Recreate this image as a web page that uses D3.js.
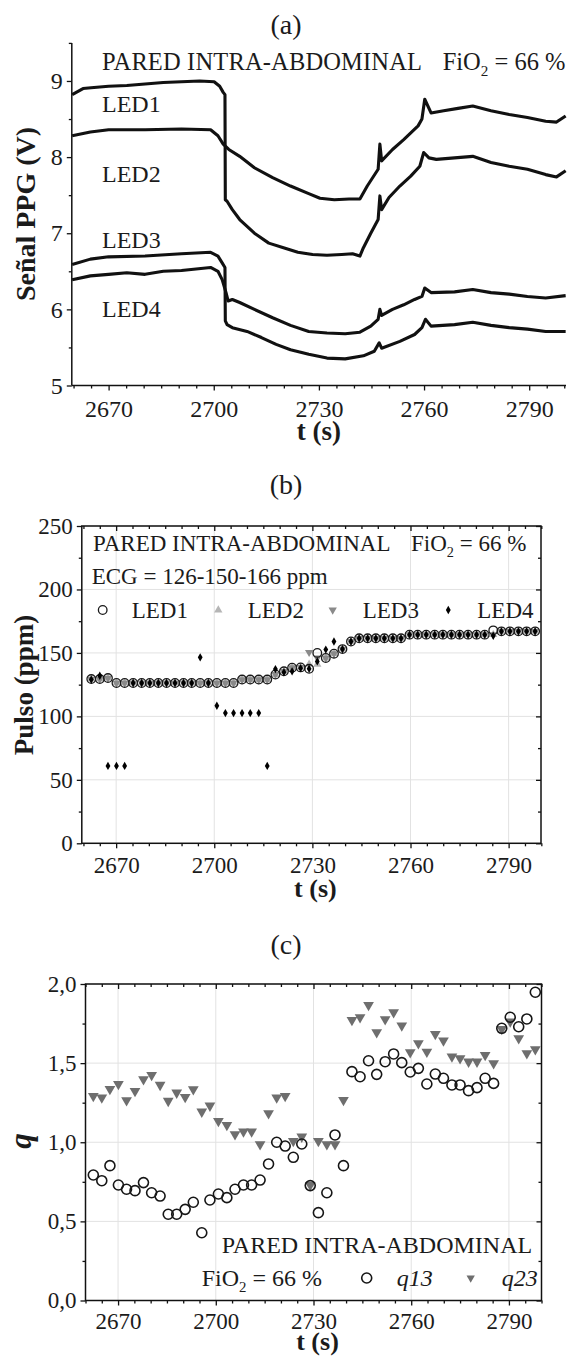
<!DOCTYPE html>
<html>
<head>
<meta charset="utf-8">
<script src="https://cdn.jsdelivr.net/npm/d3@7"></script>
<style>
  body { margin: 0; background: #fff; }
</style>
</head>
<body>
<svg id="chart" width="571" height="1356"></svg>
<script>
// ---------- panel (a): PPG signal, [t (s), V] ----------
const led1 = [[2659.6, 8.82], [2662.7, 8.90], [2665, 8.91], [2670, 8.93], [2675.2, 8.94], [2680.4, 8.96], [2685.6, 8.98],
  [2690.8, 8.99], [2696, 9.0], [2700.1, 8.99], [2701.7, 8.93], [2702.7, 8.85], [2703.2, 8.82], [2703.3, 7.44],
  [2703.8, 7.42], [2705.3, 7.31], [2707.4, 7.18], [2711.6, 7.0], [2715.7, 6.87], [2719.9, 6.81], [2724, 6.75],
  [2728.2, 6.72], [2732.3, 6.71], [2736.5, 6.72], [2739.6, 6.73], [2741.7, 6.70], [2742.7, 6.81], [2744.8, 7.0],
  [2746.9, 7.18], [2747.4, 7.49], [2747.9, 7.31], [2750, 7.47], [2753.1, 7.62], [2756.2, 7.75], [2758.8, 7.88],
  [2759.9, 8.06], [2761.4, 7.99], [2763.5, 7.97], [2768.7, 7.99], [2773.9, 8.01], [2779.1, 7.93], [2784.3, 7.88],
  [2789.5, 7.84], [2794.7, 7.77], [2797.8, 7.74], [2800.4, 7.82]];
const led2 = [[2659.6, 8.28], [2664.8, 8.33], [2670, 8.36], [2680.4, 8.36], [2690.8, 8.37], [2699.1, 8.36], [2701.2, 8.28],
  [2702.7, 8.17], [2704.3, 8.10], [2707.4, 8.01], [2711.6, 7.86], [2716.8, 7.73], [2721.9, 7.62], [2727.1, 7.52],
  [2730.3, 7.46], [2734.4, 7.44], [2738.6, 7.45], [2741.7, 7.45], [2743.8, 7.62], [2746.9, 7.84], [2747.4, 8.17],
  [2747.9, 7.95], [2751, 8.10], [2754.2, 8.23], [2758.3, 8.41], [2759.4, 8.50], [2760.2, 8.76], [2762, 8.58],
  [2765.6, 8.61], [2769.7, 8.64], [2773.9, 8.67], [2779.1, 8.61], [2784.3, 8.56], [2789.5, 8.52], [2794.7, 8.47],
  [2797.8, 8.46], [2800.4, 8.54]];
const led3 = [[2659.6, 6.59], [2664.8, 6.66], [2670, 6.69], [2680.4, 6.70], [2690.8, 6.73], [2699.1, 6.75], [2701.2, 6.70],
  [2702.4, 6.61], [2703.2, 6.55], [2703.3, 5.85], [2703.8, 5.80], [2705.3, 5.76], [2709.5, 5.71], [2713.6, 5.63],
  [2717.8, 5.54], [2721.9, 5.47], [2727.1, 5.41], [2732.3, 5.36], [2737.5, 5.35], [2742.7, 5.39], [2745.8, 5.45],
  [2747.2, 5.56], [2747.9, 5.49], [2753.1, 5.58], [2757.3, 5.67], [2759.4, 5.76], [2760.4, 5.87], [2762, 5.78],
  [2768.7, 5.80], [2773.9, 5.83], [2779.1, 5.79], [2784.3, 5.76], [2789.5, 5.74], [2794.7, 5.71], [2800.4, 5.71]];
const led4 = [[2659.6, 6.39], [2664.8, 6.44], [2670, 6.46], [2675.2, 6.48], [2680.4, 6.46], [2685.6, 6.50], [2690.8, 6.51],
  [2699.1, 6.55], [2701.2, 6.50], [2702.4, 6.39], [2703.5, 6.22], [2704.1, 6.11], [2705.3, 6.13], [2707.4, 6.09],
  [2711.6, 6.0], [2716.8, 5.89], [2721.9, 5.79], [2727.1, 5.71], [2732.3, 5.69], [2737.5, 5.68], [2741.7, 5.70],
  [2744.8, 5.78], [2746.9, 5.87], [2747.4, 6.0], [2747.9, 5.92], [2751, 6.0], [2754.2, 6.06], [2757.3, 6.13],
  [2759.4, 6.17], [2760.2, 6.28], [2762, 6.22], [2768.7, 6.23], [2773.9, 6.26], [2779.1, 6.22], [2784.3, 6.20],
  [2789.5, 6.17], [2794.7, 6.15], [2800.4, 6.18]];
const ledNames = ['LED1', 'LED2', 'LED3', 'LED4'];

// ---------- panels (b) and (c): one estimate every ~2.56 s ----------
const times = [2662.4, 2665.0, 2667.5, 2670.1, 2672.6, 2675.2, 2677.8, 2680.3, 2682.9, 2685.4,
  2688.0, 2690.6, 2693.1, 2695.7, 2698.2, 2700.8, 2703.4, 2705.9, 2708.5, 2711.0,
  2713.6, 2716.2, 2718.7, 2721.3, 2723.8, 2726.4, 2729.0, 2731.5, 2734.1, 2736.6,
  2739.2, 2741.8, 2744.3, 2746.9, 2749.4, 2752.0, 2754.6, 2757.1, 2759.7, 2762.2,
  2764.8, 2767.4, 2769.9, 2772.5, 2775.0, 2777.6, 2780.2, 2782.7, 2785.3, 2787.8,
  2790.4, 2793.0, 2795.5, 2798.1];

const pulseLed1 = [129.4, 129.4, 130.2, 126.3, 126.3, 126.3, 126.3, 126.3, 126.3, 126.3,
  126.3, 126.3, 126.3, 126.3, 126.3, 126.3, 126.3, 126.3, 129, 129,
  129, 129, 133, 135.5, 138.4, 138.6, 137.5, 150, 146, 149.4,
  153, 159, 161.5, 161.5, 161.5, 161.5, 161.5, 161.5, 164.4, 164.4,
  164.4, 164.4, 164.4, 164.4, 164.4, 164.4, 164.4, 164.4, 167.8, 167,
  167, 167, 167, 167];
const pulseLed2 = [129.4, 129.4, 130.2, 126.3, 126.3, 126.3, 126.3, 126.3, 126.3, 126.3,
  126.3, 126.3, 126.3, 126.3, 126.3, 126.3, 126.3, 126.3, 129, 129,
  129, 129, 133, 135.5, 138.4, 138.6, 141, 141, 146, 149.4,
  153, 159, 161.5, 161.5, 161.5, 161.5, 161.5, 161.5, 164.4, 164.4,
  164.4, 164.4, 164.4, 164.4, 164.4, 164.4, 164.4, 164.4, 164.4, 167,
  167, 167, 167, 167];
const pulseLed3 = [129.4, 129.4, 130.2, 126.3, 126.3, 126.3, 126.3, 126.3, 126.3, 126.3,
  126.3, 126.3, 126.3, 126.3, 126.3, 126.3, 126.3, 126.3, 129, 129,
  129, 129, 133, 135.5, 138.4, 138.6, 150.5, 146, 146, 149.4,
  153, 159, 161.5, 161.5, 161.5, 161.5, 161.5, 161.5, 164.4, 164.4,
  164.4, 164.4, 164.4, 164.4, 164.4, 164.4, 164.4, 164.4, 164.4, 167,
  167, 167, 167, 167];
const pulseLed4 = [129, 132, 61, 61, 61, 126.3, 126.3, 126.3, 126.3, 126.3,
  126.3, 126.3, 126.3, 146.5, 126.3, 108.4, 102.6, 102.6, 102.6, 102.6,
  102.6, 61, 137.3, 134.8, 135.5, 138, 137.5, 143.3, 152.6, 159,
  153, 159, 161.5, 161.5, 161.5, 161.5, 161.5, 161.5, 164.4, 164.4,
  164.4, 164.4, 164.4, 164.4, 164.4, 164.4, 164.4, 164.4, 163.5, 167,
  167, 167, 167, 167];

const q13 = [0.793, 0.757, 0.852, 0.730, 0.703, 0.694, 0.745, 0.681, 0.660, 0.545,
  0.545, 0.576, 0.621, 0.428, 0.635, 0.673, 0.650, 0.703, 0.730, 0.730,
  0.761, 0.863, 1.0, 0.976, 0.905, 0.989, 0.726, 0.555, 0.681, 1.046,
  0.852, 1.446, 1.414, 1.515, 1.429, 1.509, 1.558, 1.503, 1.444, 1.467,
  1.368, 1.431, 1.404, 1.362, 1.362, 1.326, 1.345, 1.404, 1.372, 1.72,
  1.79, 1.73, 1.779, 1.948];
const q23 = [1.292, 1.282, 1.336, 1.368, 1.265, 1.324, 1.398, 1.425, 1.362, 1.261,
  1.313, 1.286, 1.335, 1.193, 1.231, 1.134, 1.109, 1.050, 1.067, 1.067,
  0.987, 1.183, 1.282, 1.292, 1.008, 1.035, 0.73, 1.008, 0.987, 0.987,
  1.267, 1.772, 1.79, 1.867, 1.695, 1.777, 1.821, 1.737, 1.568, 1.625,
  1.572, 1.684, 1.642, 1.541, 1.530, 1.509, 1.509, 1.551, 1.499, 1.715,
  1.762, 1.657, 1.562, 1.587];

const xMajor = [2670, 2700, 2730, 2760, 2790];
const yMajorA = [5, 6, 7, 8, 9];
const yMajorB = [0, 50, 100, 150, 200, 250];
const yMajorC = [0, 0.5, 1.0, 1.5, 2.0];

const serif = '"Liberation Serif", "Times New Roman", Times, serif';
const ink = '#1b1b1b';
const svg = d3.select('#chart');
svg.append('rect').attr('width', 571).attr('height', 1356).attr('fill', '#fff');

const xMinor = d3.range(2660, 2801, 5).filter(v => !xMajor.includes(v));

function addAxis(gen, scale, major, minor, opts) {
  const g = svg.append('g').attr('transform', opts.at);
  const parts = [];
  parts.push(g.append('g').call(gen(scale).tickValues(minor).tickSize(opts.minor).tickFormat('').tickSizeOuter(0)));
  parts.push(g.append('g').call(gen(scale).tickValues(major).tickSize(opts.major)
    .tickPadding(opts.pad || 3).tickFormat(opts.fmt || (() => '')).tickSizeOuter(0)));
  parts.forEach(p => {
    p.select('.domain').remove();
    p.selectAll('line').attr('stroke', '#111').attr('stroke-width', 1.3);
    p.selectAll('text').attr('font-family', serif).attr('font-size', opts.fs || 23).attr('fill', ink);
  });
  return g;
}

function label(x, y, txt, fs, extra) {
  const t = svg.append('text').attr('x', x).attr('y', y)
    .attr('font-family', serif).attr('font-size', fs).attr('fill', ink).text(txt);
  if (extra) extra(t);
  return t;
}

function fio2(x, y, fs) {
  const t = svg.append('text').attr('x', x).attr('y', y)
    .attr('font-family', serif).attr('font-size', fs).attr('fill', ink);
  t.append('tspan').text('FiO');
  t.append('tspan').attr('font-size', fs * 0.62).attr('dy', fs * 0.26).text('2');
  t.append('tspan').attr('dy', -fs * 0.26).text(' = 66 %');
}

function title(txt, y) {
  label(286, y, txt, 28, t => t.attr('text-anchor', 'middle'));
}

function yTitle(x, y, txt, fs, italic) {
  svg.append('text').attr('transform', `translate(${x},${y}) rotate(-90)`)
    .attr('text-anchor', 'middle').attr('font-family', serif).attr('font-size', fs)
    .attr('font-weight', 'bold').attr('font-style', italic ? 'italic' : 'normal')
    .attr('fill', ink).text(txt);
}

// ================= panel (a) =================
const xA = d3.scaleLinear().domain([2659.5, 2800.5]).range([71.8, 566]);
const yA = d3.scaleLinear().domain([5, 9.5]).range([385.5, 42.9]);

title('(a)', 34);

const lineA = d3.line().x(d => xA(d[0])).y(d => yA(d[1]));
[led1, led2, led3, led4].forEach(s => {
  svg.append('path').datum(s).attr('d', lineA).attr('fill', 'none')
    .attr('stroke', '#111').attr('stroke-width', 3.1).attr('stroke-linejoin', 'round');
});

svg.append('line').attr('x1', xA(2659.5)).attr('x2', xA(2659.5)).attr('y1', yA(5)).attr('y2', yA(9.5))
  .attr('stroke', '#111').attr('stroke-width', 1.5);
svg.append('line').attr('x1', xA(2659.5)).attr('x2', xA(2800.5)).attr('y1', yA(5)).attr('y2', yA(5))
  .attr('stroke', '#111').attr('stroke-width', 1.5);

addAxis(d3.axisBottom, xA, xMajor, xMinor, { at: `translate(0,${yA(5)})`, major: 5, minor: 3, pad: 9, fs: 24, fmt: d3.format('d') });
addAxis(d3.axisLeft, yA, yMajorA, [5.5, 6.5, 7.5, 8.5, 9.5], { at: `translate(${xA(2659.5)},0)`, major: 5, minor: 3, pad: 4, fs: 24, fmt: d3.format('d') });

label(102, 70, 'PARED INTRA-ABDOMINAL', 24.5, t => t.attr('textLength', 320).attr('lengthAdjust', 'spacing'));
fio2(442.7, 70, 24.5);
const ledLabelY = [111.5, 181.5, 247.5, 316.5];
ledNames.forEach((n, i) => label(102, ledLabelY[i], n, 24));

yTitle(35, 214, 'Señal PPG (V)', 28);
label((xA(2659.5) + xA(2800.5)) / 2, yA(5) + 54, 't (s)', 27, t => t.attr('text-anchor', 'middle').attr('font-weight', 'bold'));

// ================= framed panels helper =================
function frame(x, y, yTicks, yMinor, fmt, fs, tickPad, titleDy) {
  const [x0, x1] = x.range();
  const [y0, y1] = y.range();
  const grid = svg.append('g');
  xMajor.forEach(v => grid.append('line').attr('x1', x(v)).attr('x2', x(v)).attr('y1', y0).attr('y2', y1)
    .attr('stroke', '#e2e2e2').attr('stroke-width', 1));
  yTicks.forEach(v => grid.append('line').attr('x1', x0).attr('x2', x1).attr('y1', y(v)).attr('y2', y(v))
    .attr('stroke', '#e2e2e2').attr('stroke-width', 1));
  addAxis(d3.axisBottom, x, xMajor, xMinor, { at: `translate(0,${y0})`, major: 5, minor: 3, pad: tickPad, fs, fmt: d3.format('d') });
  addAxis(d3.axisTop, x, xMajor, xMinor, { at: `translate(0,${y1})`, major: -5, minor: -3 });
  addAxis(d3.axisLeft, y, yTicks, yMinor, { at: `translate(${x0},0)`, major: 5, minor: 3, pad: 4, fs, fmt });
  addAxis(d3.axisRight, y, yTicks, yMinor, { at: `translate(${x1},0)`, major: -5, minor: -3 });
  svg.append('rect').attr('x', x0).attr('y', y1).attr('width', x1 - x0).attr('height', y0 - y1)
    .attr('fill', 'none').attr('stroke', '#111').attr('stroke-width', 1.5);
  label((x0 + x1) / 2 + 4, y0 + titleDy, 't (s)', 26, t => t.attr('text-anchor', 'middle').attr('font-weight', 'bold'));
}

// ================= panel (b) =================
const xB = d3.scaleLinear().domain([2659.5, 2799.9]).range([81.8, 541]);
const yB = d3.scaleLinear().domain([0, 250]).range([843.3, 526]);

title('(b)', 494);
frame(xB, yB, yMajorB, [25, 75, 125, 175, 225], d3.format('d'), 23, 8, 54);

const triUp = d3.symbol(d3.symbolTriangle, 30);
const triDown = d3.symbol(d3.symbolTriangle, 30);
const diamond = d3.symbol(d3.symbolDiamond, 20);
const colLed2 = '#b5b5b5', colLed3 = '#8a8a8a';

const gB = svg.append('g');
gB.selectAll('.l2').data(pulseLed2).join('path').attr('class', 'l2').attr('d', triUp)
  .attr('transform', (d, i) => `translate(${xB(times[i])},${yB(d)})`).attr('fill', colLed2);
gB.selectAll('.l3').data(pulseLed3).join('path').attr('class', 'l3').attr('d', triDown)
  .attr('transform', (d, i) => `translate(${xB(times[i])},${yB(d)}) rotate(180)`).attr('fill', colLed3);
gB.selectAll('circle').data(pulseLed1).join('circle')
  .attr('cx', (d, i) => xB(times[i])).attr('cy', d => yB(d)).attr('r', 4.3)
  .attr('fill', 'none').attr('stroke', '#1a1a1a').attr('stroke-width', 1.3);
gB.selectAll('.l4').data(pulseLed4).join('path').attr('class', 'l4').attr('d', diamond)
  .attr('transform', (d, i) => `translate(${xB(times[i])},${yB(d)})`).attr('fill', '#000');

label(93, 551, 'PARED INTRA-ABDOMINAL', 23);
fio2(411, 551, 23);
label(91.7, 584, 'ECG = 126-150-166 ppm', 23);
// legend
svg.append('circle').attr('cx', 102.7).attr('cy', 610).attr('r', 4.3).attr('fill', 'none').attr('stroke', '#1a1a1a').attr('stroke-width', 1.3);
svg.append('path').attr('d', triUp).attr('transform', 'translate(218.3,610)').attr('fill', colLed2);
svg.append('path').attr('d', triDown).attr('transform', 'translate(332.7,610) rotate(180)').attr('fill', colLed3);
svg.append('path').attr('d', diamond).attr('transform', 'translate(448.3,610)').attr('fill', '#000');
[131.7, 247.7, 362.7, 477.3].forEach((x, i) => label(x, 618, ledNames[i], 23));

yTitle(33, 685, 'Pulso (ppm)', 27);

// ================= panel (c) =================
const xC = d3.scaleLinear().domain([2660, 2800]).range([85.5, 541.5]);
const yC = d3.scaleLinear().domain([0, 2]).range([1300.5, 984]);

title('(c)', 954);
frame(xC, yC, yMajorC, [0.25, 0.75, 1.25, 1.75], d => d3.format('.1f')(d).replace('.', ','), 23, 7, 49);

const triC = d3.symbol(d3.symbolTriangle, 50);
const gC = svg.append('g');
gC.selectAll('path').data(q23).join('path').attr('d', triC)
  .attr('transform', (d, i) => `translate(${xC(times[i])},${yC(d)}) rotate(180)`).attr('fill', '#6e6e6e');
gC.selectAll('circle').data(q13).join('circle')
  .attr('cx', (d, i) => xC(times[i])).attr('cy', d => yC(d)).attr('r', 5)
  .attr('fill', 'none').attr('stroke', '#161616').attr('stroke-width', 1.6);

label(221.7, 1253, 'PARED INTRA-ABDOMINAL', 24);
fio2(201.7, 1286, 24);
svg.append('circle').attr('cx', 366.7).attr('cy', 1278).attr('r', 5).attr('fill', 'none').attr('stroke', '#161616').attr('stroke-width', 1.6);
label(396.7, 1286, 'q13', 24, t => t.attr('font-style', 'italic'));
svg.append('path').attr('d', d3.symbol(d3.symbolTriangle, 30)).attr('transform', 'translate(470.7,1278) rotate(180)').attr('fill', '#6e6e6e');
label(501.7, 1286, 'q23', 24, t => t.attr('font-style', 'italic'));

yTitle(31, 1141, 'q', 31, true);
</script>
</body>
</html>
